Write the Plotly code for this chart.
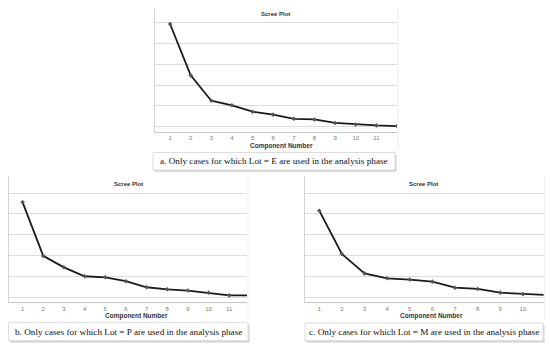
import plotly.graph_objects as go

W, H = 550, 348

# ---------------- data ----------------
components_a = [1, 2, 3, 4, 5, 6, 7, 8, 9, 10, 11, 12]
eigen_a = [4.94, 2.47, 1.25, 1.03, 0.72, 0.58, 0.38, 0.35, 0.18, 0.11, 0.06, 0.03]
ticks_a = [1, 2, 3, 4, 5, 6, 7, 8, 9, 10, 11]

components_b = [1, 2, 3, 4, 5, 6, 7, 8, 9, 10, 11, 12]
eigen_b = [4.57, 1.98, 1.43, 1.00, 0.95, 0.76, 0.47, 0.37, 0.31, 0.21, 0.08, 0.08]
ticks_b = [1, 2, 3, 4, 5, 6, 7, 8, 9, 10, 11]

components_c = [1, 2, 3, 4, 5, 6, 7, 8, 9, 10, 11]
eigen_c = [4.16, 2.07, 1.14, 0.90, 0.84, 0.74, 0.45, 0.39, 0.21, 0.14, 0.10]
ticks_c = [1, 2, 3, 4, 5, 6, 7, 8, 9, 10]

chart_title = "Scree Plot"
x_title = "Component Number"
caption_a = "a. Only cases for which Lot = E are used in the analysis phase"
caption_b = "b. Only cases for which Lot = P are used in the analysis phase"
caption_c = "c. Only cases for which Lot = M are used in the analysis phase"


def px(x):
    return x / W


def py(y):
    return 1 - y / H


panels = [
    dict(s="", c=components_a, v=eigen_a, t=ticks_a, cap=caption_a,
         box=(155, 397, 8, 132), xr=[0.27, 12.0], yr=[-0.255, 5.71],
         tpos=(275, 14), xtpos=(281, 146), cbox=(153, 395, 152.5, 170)),
    dict(s="2", c=components_b, v=eigen_b, t=ticks_b, cap=caption_b,
         box=(8.5, 247, 176, 302.3), xr=[0.32, 11.86], yr=[-0.255, 5.83],
         tpos=(128, 184), xtpos=(136, 315.7), cbox=(8.5, 248, 322.7, 340.7)),
    dict(s="3", c=components_c, v=eigen_c, t=ticks_c, cap=caption_c,
         box=(305, 543.5, 176, 302.3), xr=[0.37, 10.91], yr=[-0.255, 5.83],
         tpos=(423, 184), xtpos=(431, 316), cbox=(305, 543, 323, 340.7)),
]

fig = go.Figure()
layout = dict(
    width=W, height=H, margin=dict(l=0, r=0, t=0, b=0),
    paper_bgcolor="white", plot_bgcolor="white", showlegend=False,
    shapes=[], annotations=[],
)

for p in panels:
    s = p["s"]
    l, r, t, b = p["box"]
    fig.add_trace(go.Scatter(
        x=p["c"], y=p["v"], mode="lines+markers",
        xaxis="x" + s, yaxis="y" + s,
        line=dict(color="#1a1a1a", width=1.8),
        marker=dict(symbol="diamond", size=3.5, color="#555555"),
        cliponaxis=True, hoverinfo="skip",
    ))
    layout["xaxis" + s] = dict(
        domain=[px(l), px(r)], range=p["xr"], anchor="y" + s,
        tickvals=p["t"], ticktext=[str(v) for v in p["t"]],
        tickfont=dict(family="Liberation Sans", size=6, color="#7a7a7a"),
        showgrid=False, zeroline=False, showline=True, linecolor="#c8c8c8",
        linewidth=1, ticks="", ticklabelstandoff=0, fixedrange=True,
    )
    layout["yaxis" + s] = dict(
        domain=[py(b), py(t)], range=p["yr"], anchor="x" + s,
        tick0=0, dtick=1, showticklabels=False, ticks="",
        showgrid=True, gridcolor="#dcdcdc", gridwidth=1,
        zeroline=False, showline=True, linecolor="#d4d4d4", linewidth=1,
        fixedrange=True,
    )
    layout["shapes"].append(dict(
        type="line", xref="paper", yref="paper",
        x0=px(r + 1), x1=px(r + 1), y0=py(b + 18), y1=py(t),
        line=dict(color="#ececec", width=1)))
    layout["annotations"].append(dict(
        text="<b>" + chart_title + "</b>", xref="paper", yref="paper",
        x=px(p["tpos"][0]), y=py(p["tpos"][1]), xanchor="center", yanchor="middle",
        showarrow=False, font=dict(family="Liberation Sans", size=6, color="#333333")))
    layout["annotations"].append(dict(
        text="<b>" + x_title + "</b>", xref="paper", yref="paper",
        x=px(p["xtpos"][0]), y=py(p["xtpos"][1]), xanchor="center", yanchor="middle",
        showarrow=False, font=dict(family="Liberation Sans", size=6.5, color="#333333")))
    cl, cr, ct, cb = p["cbox"]
    layout["shapes"].append(dict(
        type="rect", xref="paper", yref="paper",
        x0=px(cl + 1.5), x1=px(cr + 1.5), y0=py(cb + 1.8), y1=py(ct + 1.8),
        fillcolor="#bdbdbd", line=dict(width=0), layer="above", opacity=0.7))
    layout["shapes"].append(dict(
        type="rect", xref="paper", yref="paper",
        x0=px(cl), x1=px(cr), y0=py(cb), y1=py(ct),
        fillcolor="white", line=dict(color="#dddddd", width=1), layer="above"))
    layout["annotations"].append(dict(
        text=p["cap"], xref="paper", yref="paper",
        x=px((cl + cr) / 2), y=py((ct + cb) / 2), xanchor="center", yanchor="middle",
        showarrow=False, font=dict(family="Liberation Serif", size=9.2, color="#111111")))

fig.update_layout(**layout)
fig.write_html("out.html", config={"displayModeBar": False, "staticPlot": True},
               post_script="document.body.style.margin='0';document.body.style.overflow='hidden';")
